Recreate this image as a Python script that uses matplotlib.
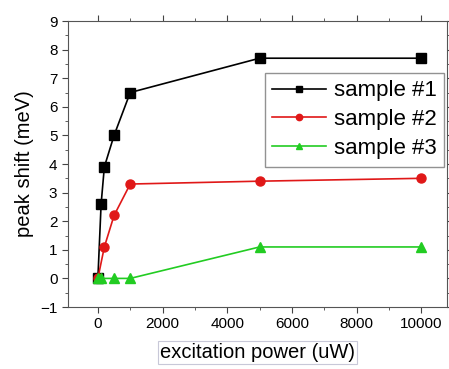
import matplotlib
matplotlib.use("Agg")
import matplotlib.pyplot as plt
from matplotlib.ticker import AutoMinorLocator

plt.rcParams['font.family'] = ['Liberation Sans', 'DejaVu Sans']

# excitation power (uW) and peak shift (meV)
power_1 = [0, 100, 200, 500, 1000, 5000, 10000]
shift_1 = [0, 2.6, 3.9, 5.0, 6.5, 7.7, 7.7]

power_2 = [0, 200, 500, 1000, 5000, 10000]
shift_2 = [0, 1.1, 2.2, 3.3, 3.4, 3.5]

power_3 = [0, 100, 500, 1000, 5000, 10000]
shift_3 = [0, 0, 0, 0, 1.1, 1.1]

labels = ["sample #1", "sample #2", "sample #3"]

fig = plt.figure(figsize=(4.49, 3.69), dpi=100)
ax = fig.add_axes([0.151, 0.168, 0.845, 0.775])

ax.plot(power_1, shift_1, color="black", marker="s", ms=6.5, lw=1.2, label=labels[0])
ax.plot(power_2, shift_2, color="#e01818", marker="o", ms=6.5, lw=1.2, label=labels[1])
ax.plot(power_3, shift_3, color="#22cc22", marker="^", ms=7, lw=1.2, label=labels[2])

ax.set_xlim(-930, 10800)
ax.set_ylim(-1, 9)
ax.set_xticks([0, 2000, 4000, 6000, 8000, 10000])
ax.set_yticks(range(-1, 10))
ax.xaxis.set_minor_locator(AutoMinorLocator(2))
ax.yaxis.set_minor_locator(AutoMinorLocator(2))
ax.tick_params(which="both", direction="out", labelsize=11, color="#444444")
ax.tick_params(which="major", length=4)
ax.tick_params(which="minor", length=2)
ax.tick_params(axis="both", which="both", top=True, right=True)
for s in ax.spines.values():
    s.set_color("#555555")

ax.set_ylabel("peak shift (meV)", fontsize=14.5, labelpad=4)
ax.set_xlabel("excitation power (uW)", fontsize=14.5, labelpad=8,
              bbox=dict(facecolor="white", edgecolor="#c8c8d8", pad=1.5, lw=0.8))

ax.legend(loc="upper right", bbox_to_anchor=(0.992, 0.82), fontsize=16,
          frameon=True, fancybox=False, edgecolor="#777777", handlelength=2.4,
          handletextpad=0.35, borderpad=0.35, labelspacing=0.35, borderaxespad=0,
          markerscale=0.7)

fig.savefig("out.png", dpi=100)
